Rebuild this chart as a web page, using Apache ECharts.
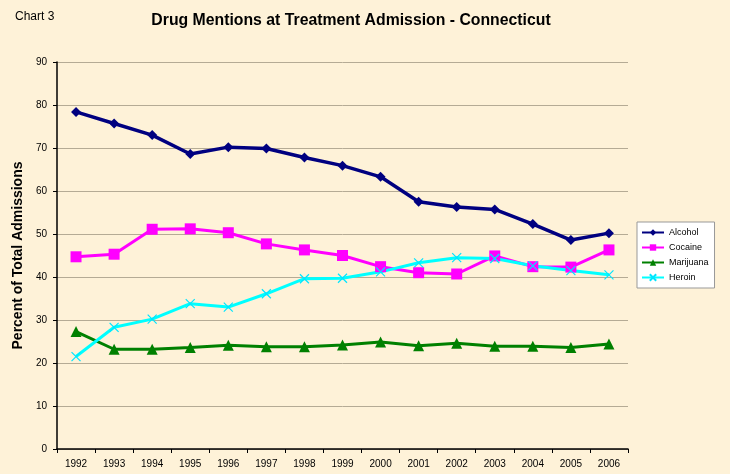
<!DOCTYPE html>
<html><head><meta charset="utf-8">
<script src="https://cdn.jsdelivr.net/npm/echarts@6/dist/echarts.min.js"></script>
<style>html,body{margin:0;padding:0;background:#FEF2D8;}#c{width:730px;height:474px;}</style>
</head><body><div id="c"></div>
<script>
const years = ['1992','1993','1994','1995','1996','1997','1998','1999','2000','2001','2002','2003','2004','2005','2006'];
const alcohol = [78.4,75.7,73.0,68.6,70.2,69.9,67.8,65.9,63.3,57.5,56.3,55.7,52.3,48.6,50.2];
const cocaine = [44.7,45.3,51.1,51.2,50.3,47.7,46.3,45.0,42.4,41.0,40.7,44.9,42.4,42.3,46.3];
const marijuana = [27.3,23.2,23.2,23.6,24.1,23.8,23.8,24.2,24.9,24.0,24.6,23.9,23.9,23.6,24.4];
const heroin = [21.5,28.3,30.2,33.8,33.0,36.1,39.6,39.7,41.2,43.3,44.5,44.3,42.6,41.5,40.5];
const yTicks = [0,90,10];

const chart = echarts.init(document.getElementById('c'));
const font = 'Liberation Sans, Arial, sans-serif';
function s(name, data, color, symbol, size, width, extra) {
  return {name, type:'line', data, symbol, symbolSize:size, lineStyle:{color, width},
    itemStyle:Object.assign({color}, extra||{}), emphasis:{disabled:true}, z: 3};
}
chart.setOption({
  backgroundColor:'#FEF2D8',
  animation:false,
  textStyle:{fontFamily:font},
  graphic:[{type:'text', left:15, top:11, style:{text:'Chart 3', fontSize:12, fontFamily:'Liberation Sans Narrow, Arial Narrow, sans-serif', fill:'#000'}}],
  title:{text:'Drug Mentions at Treatment Admission - Connecticut', left:346, textAlign:'center', top:8,
    textStyle:{fontSize:15.8, fontWeight:'bold', color:'#000', fontFamily:font}},
  legend:{orient:'vertical', left:637, top:222, itemWidth:22, itemHeight:8, itemGap:6,
    backgroundColor:'#fff', borderColor:'#999', borderWidth:1, padding:[6,6,6,4],
    textStyle:{fontSize:9, color:'#000', fontFamily:font},
    data:['Alcohol','Cocaine','Marijuana','Heroin']},
  grid:{left:57, right:102, top:62, bottom:25},
  xAxis:{type:'category', data:years, boundaryGap:true,
    axisLine:{lineStyle:{color:'#000', width:1.5}},
    axisTick:{show:true, alignWithLabel:false, length:4, lineStyle:{color:'#000'}},
    axisLabel:{fontSize:10, color:'#000', margin:10}},
  yAxis:{type:'value', min:yTicks[0], max:yTicks[1], interval:yTicks[2],
    name:'Percent of Total Admissions', nameLocation:'middle', nameGap:25,
    nameTextStyle:{fontSize:14, fontWeight:'bold', color:'#000'},
    axisLine:{show:true, lineStyle:{color:'#000', width:1.5}},
    axisTick:{show:true, length:4, lineStyle:{color:'#000'}},
    axisLabel:{fontSize:10, color:'#000', margin:10},
    splitLine:{lineStyle:{color:'#B5AB95', width:1}}},
  series:[
    s('Alcohol', alcohol, '#000080', 'diamond', 10, 3.5),
    s('Cocaine', cocaine, '#FF00FF', 'rect', 11, 3),
    s('Marijuana', marijuana, '#008000', 'triangle', 11, 3),
    s('Heroin', heroin, '#00FFFF', 'path://M0,0L10,10M10,0L0,10', 9, 3, {borderColor:'#00E5FF', borderWidth:1.2})
  ]
});
</script></body></html>
